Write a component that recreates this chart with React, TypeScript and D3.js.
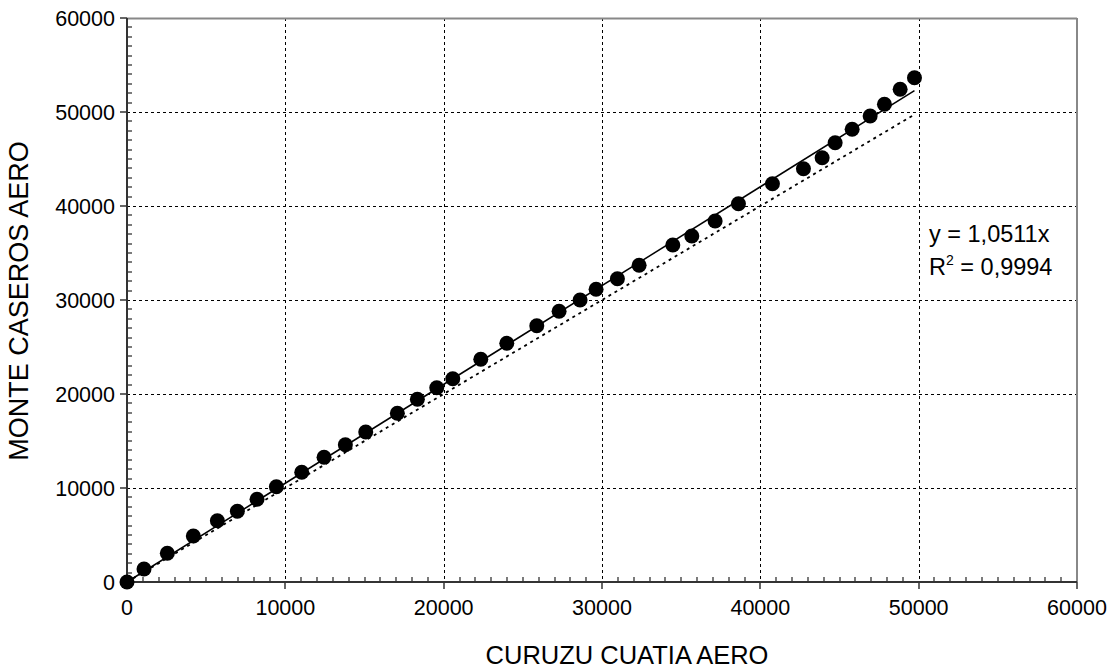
import React from "react";
import * as d3 from "d3";

const xTicks = [0, 10000, 20000, 30000, 40000, 50000, 60000];
const yTicks = [0, 10000, 20000, 30000, 40000, 50000, 60000];
const xValues = [0, 1074, 2547, 4190, 5707, 6970, 8212, 9434, 11036, 12445, 13791, 15078, 17076, 18339, 19564, 20575, 22344, 23986, 25881, 27290, 28616, 29627, 30973, 32344, 34472, 35672, 37144, 38617, 40764, 42723, 43904, 44725, 45799, 46936, 47839, 48831, 49735];
const yValues = [0, 1383, 3053, 4894, 6521, 7521, 8798, 10138, 11670, 13266, 14606, 15957, 17947, 19436, 20670, 21628, 23691, 25394, 27266, 28798, 30000, 31138, 32266, 33691, 35851, 36809, 38404, 40245, 42372, 43968, 45138, 46734, 48160, 49574, 50819, 52415, 53649];
const slope = 1.0511;
const xTitle = "CURUZU CUATIA AERO";
const yTitle = "MONTE CASEROS AERO";
const eqLine = "y = 1,0511x";
const r2Value = " = 0,9994";

const L = 127, R = 1077, T = 18, B = 582;
const FONT = "Arial, 'Liberation Sans', sans-serif";

export default function App() {
  const x = d3.scaleLinear().domain([0, 60000]).range([L, R]);
  const y = d3.scaleLinear().domain([0, 60000]).range([B, T]);
  const minor = d3.range(0, 60001, 1000).filter((v) => v % 10000 !== 0);
  const xMax = d3.max(xValues) as number;
  const line = d3.line<[number, number]>().x((d) => x(d[0])).y((d) => y(d[1]));
  const trend = line([[0, 0], [xMax, slope * xMax]]) as string;
  const oneToOne = line([[0, 0], [xMax, xMax]]) as string;

  return (
    <svg width={1117} height={670} style={{ position: "absolute", left: 0, top: 0, background: "#fff" }} fontFamily={FONT}>
      <rect x={0} y={0} width={1117} height={670} fill="#fff" />
      {xTicks.filter((v) => v > 0 && v < 60000).map((v) => (
        <line key={"gx" + v} x1={Math.round(x(v)) + 0.5} x2={Math.round(x(v)) + 0.5} y1={T} y2={B} stroke="#000" strokeWidth={1} strokeDasharray="3,3" />
      ))}
      {yTicks.filter((v) => v > 0 && v < 60000).map((v) => (
        <line key={"gy" + v} x1={L} x2={R} y1={Math.round(y(v)) + 0.5} y2={Math.round(y(v)) + 0.5} stroke="#000" strokeWidth={1} strokeDasharray="3,3" />
      ))}
      <line x1={L} x2={R} y1={T + 0.5} y2={T + 0.5} stroke="#888" strokeWidth={2} />
      <line x1={R} x2={R} y1={T} y2={B} stroke="#888" strokeWidth={2} />
      <line x1={L} x2={L} y1={T} y2={B + 1} stroke="#333" strokeWidth={2} />
      <line x1={L - 1} x2={R} y1={B} y2={B} stroke="#333" strokeWidth={2} />
      {minor.map((v) => (
        <line key={"my" + v} x1={L} x2={L + 5} y1={Math.round(y(v))} y2={Math.round(y(v))} stroke="#333" strokeWidth={1.3} />
      ))}
      {minor.map((v) => (
        <line key={"mx" + v} x1={Math.round(x(v))} x2={Math.round(x(v))} y1={B} y2={B - 5} stroke="#333" strokeWidth={1.3} />
      ))}
      {yTicks.map((v) => (
        <line key={"ty" + v} x1={L - 7} x2={L} y1={Math.round(y(v))} y2={Math.round(y(v))} stroke="#333" strokeWidth={1.5} />
      ))}
      {xTicks.map((v) => (
        <line key={"tx" + v} x1={Math.round(x(v))} x2={Math.round(x(v))} y1={B} y2={B + 7} stroke="#333" strokeWidth={1.5} />
      ))}
      {yTicks.map((v) => (
        <text key={"ly" + v} x={L - 12} y={y(v)} dy="0.36em" textAnchor="end" fontSize={21.5} fill="#000">{v}</text>
      ))}
      {xTicks.map((v) => (
        <text key={"lx" + v} x={x(v)} y={615} textAnchor="middle" fontSize={21.5} fill="#000">{v}</text>
      ))}
      <text x={627} y={664} textAnchor="middle" fontSize={25.5} fill="#000">{xTitle}</text>
      <text transform={`translate(28,${301}) rotate(-90)`} textAnchor="middle" fontSize={27} fill="#000">{yTitle}</text>
      <path d={oneToOne} fill="none" stroke="#000" strokeWidth={1.8} strokeDasharray="3,4" />
      <path d={trend} fill="none" stroke="#000" strokeWidth={1.5} />
      {xValues.map((v, i) => (
        <circle key={"p" + i} cx={x(v)} cy={y(yValues[i])} r={7.5} fill="#000" />
      ))}
      <text x={929} y={242} fontSize={23.5} fill="#000">{eqLine}</text>
      <text x={929} y={275} fontSize={23.5} fill="#000">R<tspan dy={-10} fontSize={14}>2</tspan><tspan dy={10}>{r2Value}</tspan></text>
    </svg>
  );
}
